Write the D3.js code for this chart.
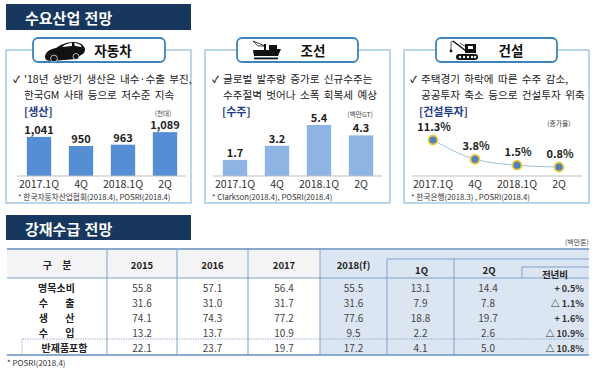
<!DOCTYPE html>
<html>
<head>
<meta charset="utf-8">
<script src="https://cdn.jsdelivr.net/npm/d3@7"></script>
<style>
  html, body { margin: 0; padding: 0; background: #fff; }
  svg { display: block; }
  text { font-family: "Noto Sans CJK KR", "Noto Sans", sans-serif; fill: #222; }
</style>
</head>
<body>
<div id="chart"></div>
<script>
// 분기 라벨
const quarters = ["2017.1Q", "4Q", "2018.1Q", "2Q"];
const autoValues = [1041, 950, 963, 1089];
const shipValues = [1.7, 3.2, 5.4, 4.3];
const buildValues = [11.3, 3.8, 1.5, 0.8];

// 표
const tableRows = ["명목소비", "수 출", "생 산", "수 입", "반제품포함"];
const tableYears = ["2015", "2016", "2017", "2018(f)"];
const col2015 = ["55.8", "31.6", "74.1", "13.2", "22.1"];
const col2016 = ["57.1", "31.0", "74.3", "13.7", "23.7"];
const col2017 = ["56.4", "31.7", "77.2", "10.9", "19.7"];
const col2018 = ["55.5", "31.6", "77.6", "9.5", "17.2"];
const col1Q = ["13.1", "7.9", "18.8", "2.2", "4.1"];
const col2Q = ["14.4", "7.8", "19.7", "2.6", "5.0"];
const colYoY = ["+ 0.5%", "△ 1.1%", "+ 1.6%", "△ 10.9%", "△ 10.8%"];

const svg = d3.select("#chart").append("svg")
  .attr("width", 600)
  .attr("height", 368);

const navy = "#17375e";

function label(g, x, y, str, size, opts) {
  opts = opts || {};
  return g.append("text")
    .attr("x", x).attr("y", y)
    .attr("text-anchor", opts.anchor || "start")
    .style("font-size", size + "px")
    .style("font-weight", opts.bold ? "700" : "400")
    .style("fill", opts.color || "#222")
    .style("word-spacing", (opts.gap || 0) + "px")
    .text(str);
}

// 제목 띠
function header(x, y, w, h, str) {
  svg.append("rect").attr("x", x).attr("y", y).attr("width", w).attr("height", h).attr("fill", navy);
  label(svg, x + 19, y + 19.5, str, 15, { bold: true, color: "#fff", gap: 1 });
}
header(6, 4, 185, 26, "수요산업 전망");
header(6, 215, 185, 25, "강재수급 전망");

// 패널 + 탭
function panel(x, tabX, tabW, title, titleX) {
  svg.append("rect").attr("x", x).attr("y", 50).attr("width", 185).attr("height", 153)
    .attr("fill", "#fff").attr("stroke", "#8fbcdc").attr("stroke-width", 1.2);
  svg.append("rect").attr("x", tabX).attr("y", 38).attr("width", tabW).attr("height", 24).attr("rx", 5)
    .attr("fill", "#fff").attr("stroke", "#3a85bd").attr("stroke-width", 1.8);
  label(svg, titleX, 55.5, title, 13.5, { bold: true, anchor: "middle", color: "#111" });
}
panel(6, 33, 132, "자동차", 113);
panel(205, 237, 121, "조선", 313);
panel(404, 436, 121, "건설", 511);

// 아이콘
const icons = svg.append("g").attr("fill", "#111");
icons.append("path")
  .attr("d", "M45 57C45 52 50 49 56 48C60 45 66 42 74 42C80 42 84 45 85 49C85 52 84 54 81 55L76 59L52 61C48 61 45 60 45 57Z");
icons.append("path").attr("fill", "#fff").attr("d", "M62 47C65 44 69 43 72 43L72 46ZM74 43C78 43 80 44 82 47L75 46Z");
icons.selectAll("circle.wheel").data([[54, 58.5, 3.4], [76, 56.5, 3]]).enter().append("circle")
  .attr("cx", d => d[0]).attr("cy", d => d[1]).attr("r", d => d[2])
  .attr("fill", "#111").attr("stroke", "#fff").attr("stroke-width", 0.7);
icons.append("path")
  .attr("d", "M253 50h11v-6h2v6h3v-5h8v4h4l-3 7h-24z");
icons.append("path").attr("d", "M254 57.5h24v1.8h-24z");
icons.append("path").attr("fill", "none").attr("stroke", "#111").attr("stroke-width", 0.8)
  .attr("d", "M265 46l-12-5M253 41l5 5 6 0");
icons.append("path")
  .attr("d", "M465 44h11v9h-11z");
icons.append("rect").attr("x", 468).attr("y", 46).attr("width", 5).attr("height", 3).attr("fill", "#fff");
icons.append("rect").attr("x", 456).attr("y", 54).attr("width", 22).attr("height", 6).attr("rx", 3);
icons.selectAll("circle.roller").data([460, 464, 468, 472, 475]).enter().append("circle")
  .attr("cx", d => d).attr("cy", 57).attr("r", 1.2).attr("fill", "#fff");
icons.append("path").attr("fill", "none").attr("stroke", "#111").attr("stroke-width", 1.5)
  .attr("d", "M466 51L453 41");
icons.append("path").attr("fill", "none").attr("stroke", "#111").attr("stroke-width", 0.7)
  .attr("d", "M453 41L451 42V50M460 43L466 47");
icons.append("circle").attr("cx", 451).attr("cy", 51).attr("r", 1.4);

// 설명 문구
function desc(x, lines) {
  label(svg, x, 83, "✓", 9.5, { bold: true });
  label(svg, x + 11, 83, lines[0], 10.6, { gap: 2 });
  label(svg, x + 11, 99, lines[1], 10.6, { gap: 2 });
}
desc(13, ["'18년 상반기 생산은 내수·수출 부진,", "한국GM 사태 등으로 저수준 지속"]);
desc(212, ["글로벌 발주량 증가로 신규수주는", "수주절벽 벗어나 소폭 회복세 예상"]);
desc(410, ["주택경기 하락에 따른 수주 감소,", "공공투자 축소 등으로 건설투자 위축"]);

// 막대 차트
const baseY = 176;
function quarterScale(x0, x1) {
  return d3.scaleBand().domain(quarters).range([x0, x1]).paddingInner(0.42).paddingOuter(0.21);
}

function barChart(x0, x1, axisX0, axisX1, values, domain, topY, color, fmt) {
  const x = quarterScale(x0, x1);
  const y = d3.scaleLinear().domain(domain).range([baseY, topY]);
  const g = svg.append("g");
  g.selectAll("rect").data(values).enter().append("rect")
    .attr("x", (d, i) => x(quarters[i]))
    .attr("y", d => y(d))
    .attr("width", x.bandwidth())
    .attr("height", d => baseY - y(d))
    .attr("fill", color);
  g.selectAll("text.val").data(values).enter().append("text")
    .attr("class", "val")
    .attr("x", (d, i) => x(quarters[i]) + x.bandwidth() / 2)
    .attr("y", d => y(d) - 3)
    .attr("text-anchor", "middle")
    .style("font-size", "11px")
    .style("font-weight", "700")
    .text(fmt);
  axis(x, axisX0, axisX1);
}

function axis(x, x0, x1) {
  svg.append("line").attr("x1", x0).attr("x2", x1).attr("y1", baseY).attr("y2", baseY)
    .attr("stroke", "#bfbfbf").attr("stroke-width", 1);
  svg.selectAll(null).data(quarters).enter().append("text")
    .attr("x", d => x(d) + x.bandwidth() / 2)
    .attr("y", 188)
    .attr("text-anchor", "middle")
    .style("font-size", "10.6px")
    .style("fill", "#333")
    .text(d => d);
}

barChart(18, 186, 17, 186, autoValues, [650, 1100], 131, "#558ed5", d3.format(","));
barChart(214, 382, 213, 382, shipValues, [0, 5.4], 125, "#8db4e2", d3.format(".1f"));

// 건설 라인
const xBuild = quarterScale(412, 580);
const yBuild = d3.scaleLinear().domain([0.8, 11.3]).range([167, 140]);
const bx = (d, i) => xBuild(quarters[i]) + xBuild.bandwidth() / 2;
svg.append("path")
  .attr("d", d3.line().x(bx).y(d => yBuild(d)).curve(d3.curveMonotoneX)(buildValues))
  .attr("fill", "none")
  .attr("stroke", "#9cc0dc")
  .attr("stroke-width", 1);
svg.selectAll("circle.pt").data(buildValues).enter().append("circle")
  .attr("class", "pt")
  .attr("cx", bx).attr("cy", d => yBuild(d)).attr("r", 4.5)
  .attr("fill", "#4f81bd").attr("stroke", "#f0c93a").attr("stroke-width", 1.8);
svg.selectAll("text.bv").data(buildValues).enter().append("text")
  .attr("class", "bv")
  .attr("x", (d, i) => bx(d, i) + 1).attr("y", d => yBuild(d) - 9)
  .attr("text-anchor", "middle")
  .style("font-size", "11px").style("font-weight", "700")
  .text(d => d.toFixed(1) + "%");
axis(xBuild, 412, 582);

// 소제목, 단위
label(svg, 24, 116, "[생산]", 11, { bold: true, color: "#1f3c88" });
label(svg, 222, 115.5, "[수주]", 11, { bold: true, color: "#1f3c88" });
label(svg, 419, 115.5, "[건설투자]", 11, { bold: true, color: "#1f3c88" });
label(svg, 163, 115.5, "(천대)", 6.6, { anchor: "middle", color: "#444" });
label(svg, 360, 117, "(백만GT)", 6.8, { anchor: "middle", color: "#444" });
label(svg, 559, 126, "(증가율)", 6.8, { anchor: "middle", color: "#444" });

// 출처
label(svg, 18, 200, "* 한국자동차산업협회(2018.4),  POSRI(2018.4)", 7.7, { color: "#333" });
label(svg, 212, 199.5, "* Clarkson(2018.4),  POSRI(2018.4)", 7.7, { color: "#333" });
label(svg, 411, 199.5, "* 한국은행(2018.3) ,  POSRI(2018.4)", 7.7, { color: "#333" });
label(svg, 7, 366, "* POSRI(2018.4)", 8, { color: "#333" });
label(svg, 589, 245, "(백만톤)", 7, { anchor: "end", color: "#444" });

// 표
const line = "#7fa1cc", thick = "#8aaad2";
const colEdges = [7, 107, 177, 248, 320, 387, 454, 522, 589];
const rowY = d3.scalePoint().domain(tableRows).range([291.5, 351.5]);

svg.append("rect").attr("x", 7).attr("y", 249).attr("width", 313).attr("height", 29).attr("fill", "#f4f4f4");
svg.append("rect").attr("x", 320).attr("y", 249).attr("width", 269).attr("height", 106).attr("fill", "#dce6f2");

function hline(x1, x2, y, w, color) {
  svg.append("line").attr("x1", x1).attr("x2", x2).attr("y1", y).attr("y2", y)
    .attr("stroke", color || line).attr("stroke-width", w);
}
function vline(x, y1, y2, w) {
  svg.append("line").attr("x1", x).attr("x2", x).attr("y1", y1).attr("y2", y2)
    .attr("stroke", line).attr("stroke-width", w);
}
hline(7, 589, 249, 2, thick);
hline(7, 589, 278, 1);
hline(387, 589, 259, 1);
hline(522, 589, 267, 1);
hline(7, 589, 355, 2, thick);
[107, 177, 248, 320].forEach(x => vline(x, 249, 355, 1));
vline(387, 259, 355, 1);
vline(454, 259, 355, 1);
vline(522, 267, 278, 1);

// 반제품 점선
svg.append("path").attr("d", "M22 355V339H589").attr("fill", "none")
  .attr("stroke", "#6f93bd").attr("stroke-width", 0.8).attr("stroke-dasharray", "1.2 1.2");

// 표 머리글
label(svg, 57, 268.5, "구 분", 10, { bold: true, anchor: "middle", gap: 8 });
const midX = i => (colEdges[i] + colEdges[i + 1]) / 2;
tableYears.forEach((d, i) => {
  label(svg, midX(i + 1), 268.5, d, 9.5, { bold: true, anchor: "middle" });
});
label(svg, midX(5) + 1, 274, "1Q", 9.5, { bold: true, anchor: "middle" });
label(svg, midX(6) + 1, 274, "2Q", 9.5, { bold: true, anchor: "middle" });
label(svg, 555, 277.5, "전년비", 9.5, { bold: true, anchor: "middle" });

// 표 본문
tableRows.forEach((r, i) => {
  const y = rowY(r);
  const isLast = i === tableRows.length - 1;
  label(svg, isLast ? 64.5 : 56.5, y, r, 10, { bold: true, anchor: "middle", gap: 15 });
  [col2015, col2016, col2017, col2018, col1Q, col2Q].forEach((col, j) => {
    label(svg, midX(j + 1), y, col[i], 10, { anchor: "middle", color: "#444" });
  });
  label(svg, 584, y, colYoY[i], 9, { bold: true, anchor: "end", color: "#333" });
});
</script>
</body>
</html>
